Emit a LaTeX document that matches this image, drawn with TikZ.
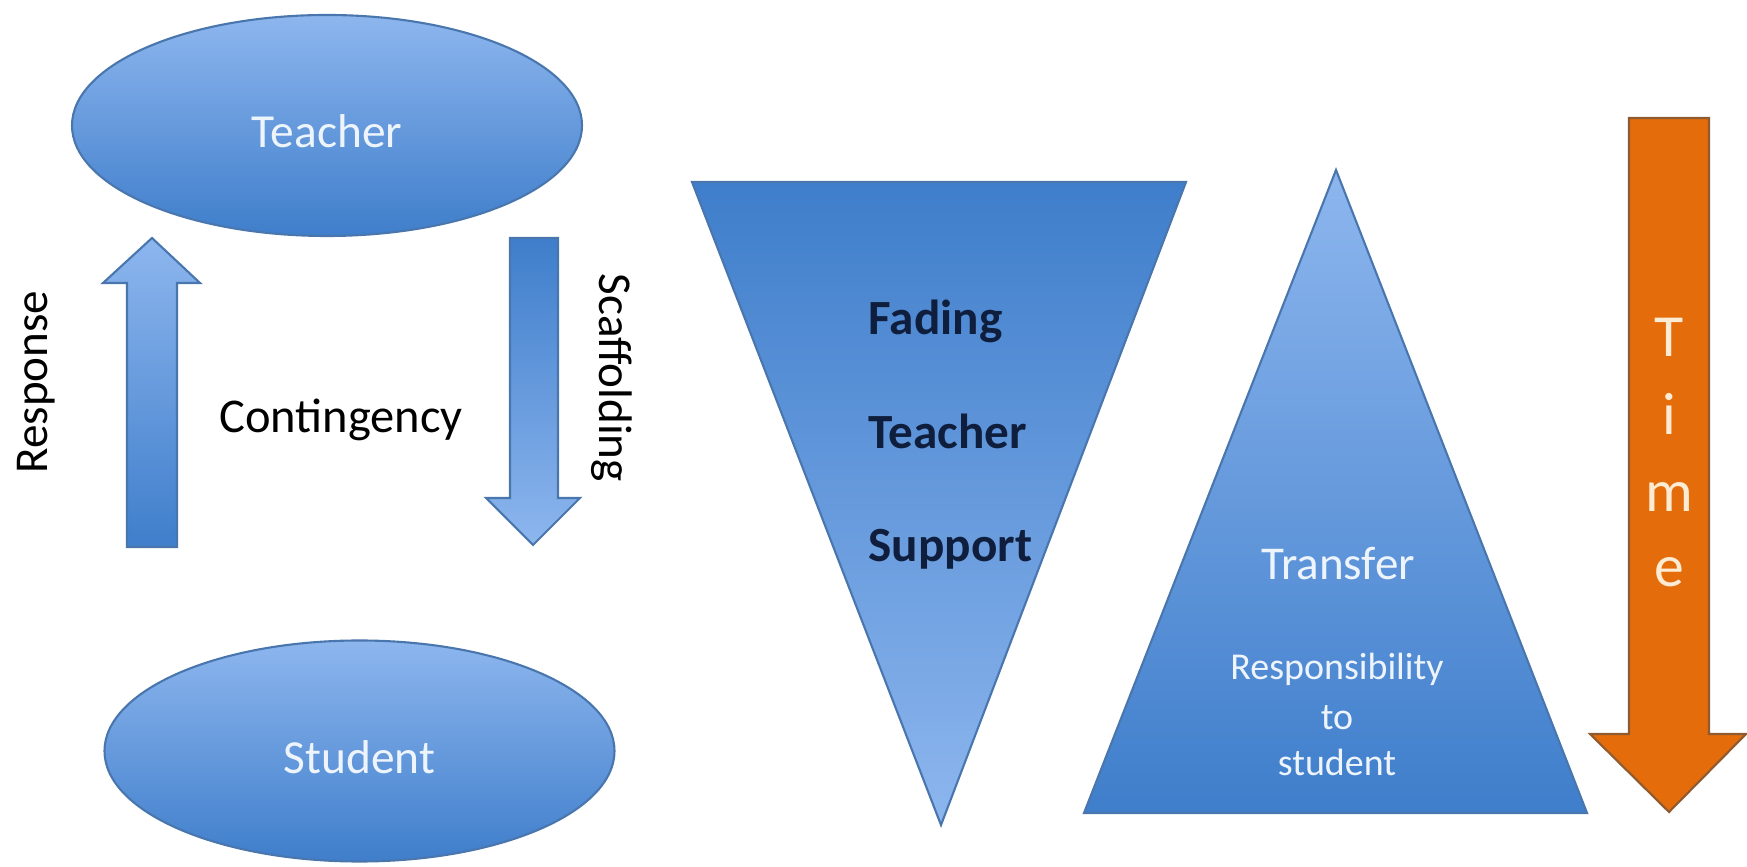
\documentclass[tikz,border=0pt]{standalone}
\usepackage{fontspec}
\setmainfont{Carlito}
\usepackage{xcolor}
\usetikzlibrary{shapes.geometric,positioning,calc}

\definecolor{blueLight}{HTML}{8DB6EE}
\definecolor{blueDark}{HTML}{3F7ECB}
\definecolor{blueEdge}{HTML}{4A76AE}
\definecolor{timeFill}{HTML}{E46C0A}
\definecolor{timeEdge}{HTML}{8E5A30}
\definecolor{navyText}{HTML}{0F1E3D}
\definecolor{paleText}{HTML}{EEF4FC}
\definecolor{timeText}{HTML}{FDEBD3}

\tikzset{
  bubble/.style={ellipse, draw=blueEdge, line width=0.6pt, top color=blueLight, bottom color=blueDark,
    minimum width=5.1cm, minimum height=2.21cm, inner sep=0pt},
  bubbletext/.style={inner sep=0pt, text=paleText, font=\fontsize{13.5}{16}\selectfont},
  upshade/.style={draw=blueEdge, line width=0.6pt, top color=blueLight, bottom color=blueDark},
  downshade/.style={draw=blueEdge, line width=0.6pt, top color=blueDark, bottom color=blueLight},
  sidelabel/.style={inner sep=0pt, text=black, font=\fontsize{13.4}{16}\selectfont},
  fadelabel/.style={inner sep=0pt, text=navyText, font=\bfseries\fontsize{14}{17}\selectfont},
  paletext/.style={inner sep=0pt, text=paleText},
  timeletter/.style={inner sep=0pt, text=timeText, font=\fontsize{17}{20}\selectfont}
}

\begin{document}
\begin{tikzpicture}
    \useasboundingbox (0,0) rectangle (17.47,-8.67);

    % Teacher / Student
    \node[bubble] (teacher) at (3.27,-1.255) {};
    \node[bubble] (student) at (3.595,-7.51) {};
    \node[bubbletext, anchor=base, yshift=-0.225cm] (teachertext) at (teacher) {Teacher};
    \node[bubbletext, anchor=base, yshift=-0.22cm] (studenttext) at (student) {Student};

    % Response arrow (up)
    \draw[upshade] (1.27,-5.47) -- (1.27,-2.83) -- (1.03,-2.83) -- (1.52,-2.38)
        -- (2.00,-2.83) -- (1.77,-2.83) -- (1.77,-5.47) -- cycle;
    \node[sidelabel, rotate=90] (response) at (0.36,-3.82) {Response};

    % Scaffolding arrow (down)
    \draw[downshade] (5.10,-2.38) -- (5.58,-2.38) -- (5.58,-4.98) -- (5.80,-4.98)
        -- (5.33,-5.45) -- (4.86,-4.98) -- (5.10,-4.98) -- cycle;
    \node[sidelabel, rotate=-90] (scaffolding) at (6.12,-3.78) {Scaffolding};

    \node[sidelabel, anchor=base, font=\fontsize{13.8}{16}\selectfont] (contingency) at (3.41,-4.33) {Contingency};

    % Fading teacher support
    \draw[downshade] (6.92,-1.82) -- (11.86,-1.82) -- (9.41,-8.25) -- cycle;
    \foreach \word/\yy in {Fading/3.35, Teacher/4.49, Support/5.62}
        \node[fadelabel, anchor=base west] (fade\word) at (8.68,-\yy) {\word};

    % Transfer
    \draw[upshade] (13.36,-1.70) -- (15.87,-8.13) -- (10.84,-8.13) -- cycle;
    \node[paletext, anchor=base, font=\fontsize{13.4}{16}\selectfont] (transfer) at (13.38,-5.80) {Transfer};
    \foreach \word/\yy in {Responsibility/6.80, to/7.30, student/7.76}
        \node[paletext, anchor=base, font=\fontsize{10.8}{13}\selectfont] (resp\word) at (13.37,-\yy) {\word};

    % Time
    \draw[fill=timeFill, draw=timeEdge, line width=0.6pt] (16.29,-1.18) -- (17.09,-1.18) -- (17.09,-7.34)
        -- (17.46,-7.34) -- (16.69,-8.12) -- (15.90,-7.34) -- (16.29,-7.34) -- cycle;
    \foreach \ch/\yy in {T/3.57, i/4.35, m/5.12, e/5.87}
        \node[timeletter, anchor=base] (time\ch) at (16.69,-\yy) {\ch};
\end{tikzpicture}
\end{document}
